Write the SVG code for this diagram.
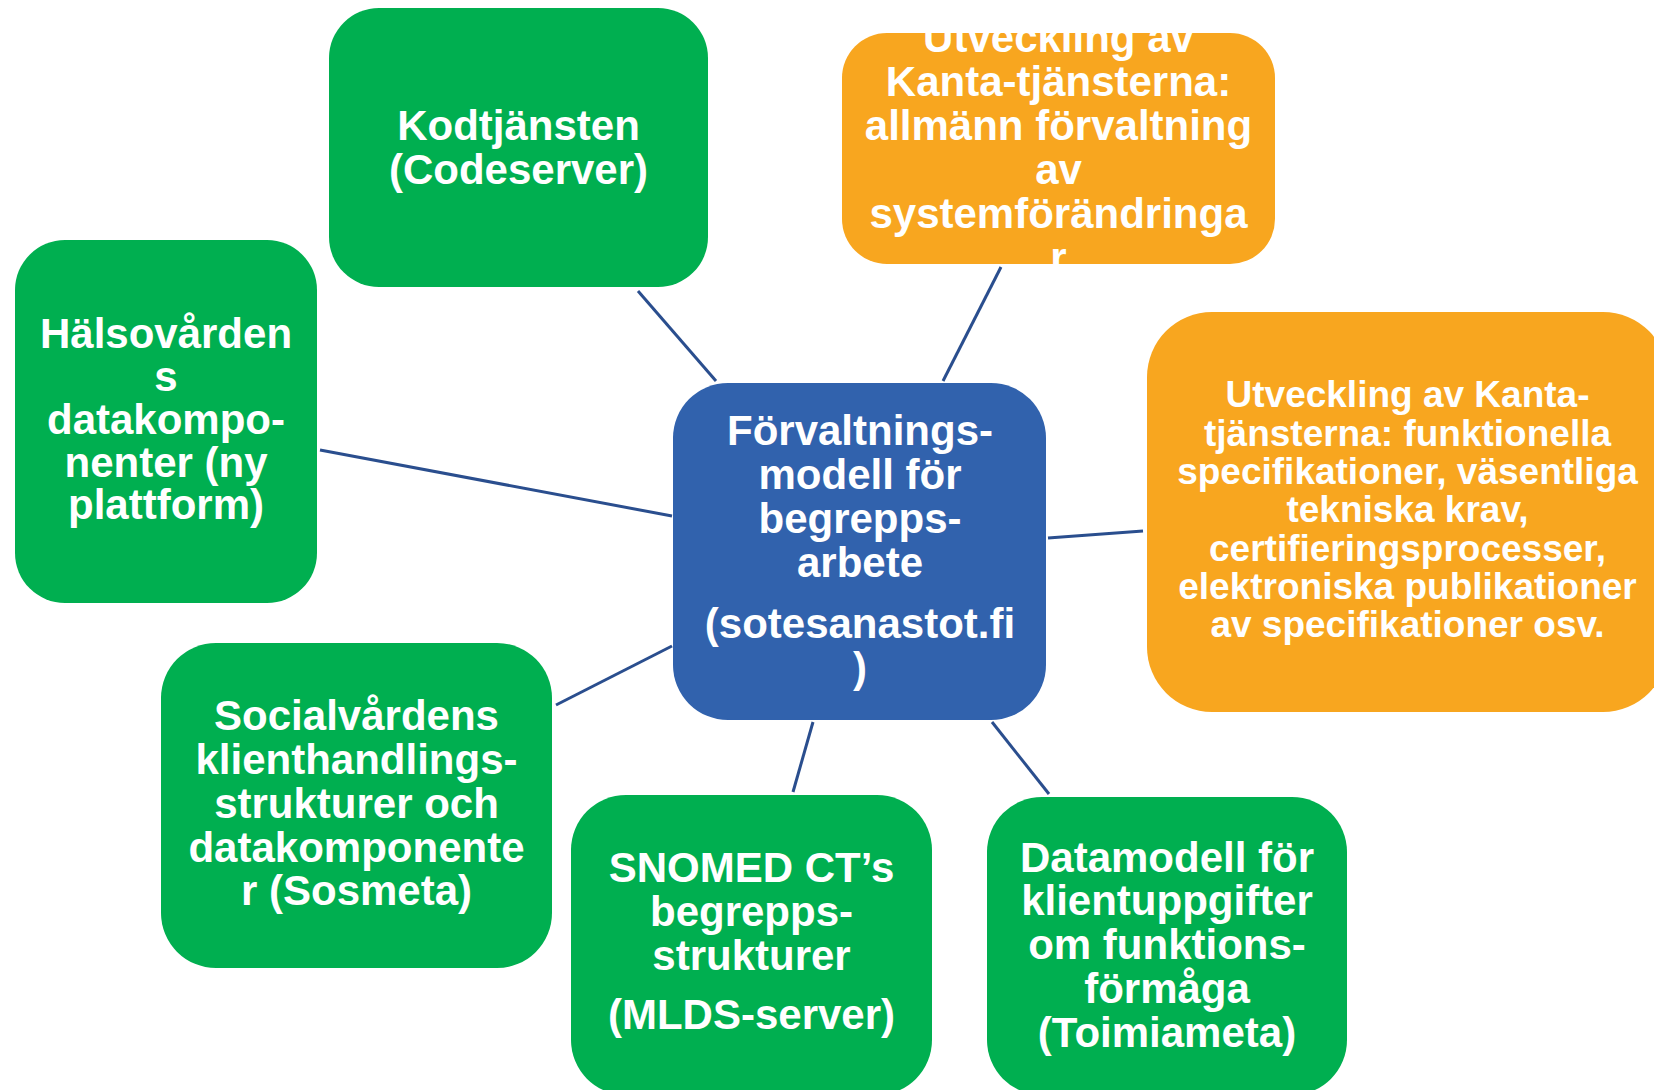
<svg xmlns="http://www.w3.org/2000/svg" width="1654" height="1090" viewBox="0 0 1654 1090">
<style>
.g{fill:#00AF50}
.b{fill:#3162AD}
.o{fill:#F8A61F}
.t{font-family:"Liberation Sans",Arial,sans-serif;font-weight:bold;font-size:42px;fill:#FFFFFF;text-anchor:middle}
.s{font-size:37px}
.c line{stroke:#2A4E8E;stroke-width:3;stroke-linecap:butt}
</style>
<defs>
<clipPath id="clipTop"><rect x="842" y="33" width="433" height="231" rx="45"/></clipPath>
</defs>
<rect width="1654" height="1090" fill="#FFFFFF"/>
<g class="c" id="connectors">
<line x1="638" y1="291" x2="716" y2="381"/>
<line x1="320" y1="450" x2="672" y2="516"/>
<line x1="672" y1="646" x2="556" y2="705"/>
<line x1="813" y1="722" x2="793" y2="792"/>
<line x1="992" y1="722" x2="1049" y2="794"/>
<line x1="1001" y1="267" x2="943" y2="381"/>
<line x1="1048" y1="538" x2="1143" y2="531"/>
</g>
<g id="center">
<rect class="b" x="673" y="383" width="373" height="337" rx="55"/>
<text class="t"><tspan x="860" y="445">Förvaltnings-</tspan><tspan x="860" y="489">modell för</tspan><tspan x="860" y="533">begrepps-</tspan><tspan x="860" y="577">arbete</tspan><tspan x="860" y="638">(sotesanastot.fi</tspan><tspan x="860" y="682">)</tspan></text>
</g>
<g id="kodtjansten">
<rect class="g" x="329" y="8" width="379" height="279" rx="50"/>
<text class="t"><tspan x="518.5" y="140">Kodtjänsten</tspan><tspan x="518.5" y="184">(Codeserver)</tspan></text>
</g>
<g id="kanta-allman">
<rect class="o" x="842" y="33" width="433" height="231" rx="45"/>
<text class="t" clip-path="url(#clipTop)"><tspan x="1058.5" y="52">Utveckling av</tspan><tspan x="1058.5" y="96">Kanta-tjänsterna:</tspan><tspan x="1058.5" y="140">allmänn förvaltning</tspan><tspan x="1058.5" y="184">av</tspan><tspan x="1058.5" y="228">systemförändringa</tspan><tspan x="1058.5" y="272">r</tspan></text>
</g>
<g id="halsovardens">
<rect class="g" x="15" y="240" width="302" height="363" rx="50"/>
<text class="t"><tspan x="166" y="348">Hälsovården</tspan><tspan x="166" y="391">s</tspan><tspan x="166" y="434">datakompo-</tspan><tspan x="166" y="477">nenter (ny</tspan><tspan x="166" y="519">plattform)</tspan></text>
</g>
<g id="kanta-funktionella">
<rect class="o" x="1147" y="312" width="521" height="400" rx="65"/>
<text class="t s"><tspan x="1407.5" y="407">Utveckling av Kanta-</tspan><tspan x="1407.5" y="446">tjänsterna: funktionella</tspan><tspan x="1407.5" y="484">specifikationer, väsentliga</tspan><tspan x="1407.5" y="522">tekniska krav,</tspan><tspan x="1407.5" y="561">certifieringsprocesser,</tspan><tspan x="1407.5" y="599">elektroniska publikationer</tspan><tspan x="1407.5" y="637">av specifikationer osv.</tspan></text>
</g>
<g id="socialvardens">
<rect class="g" x="161" y="643" width="391" height="325" rx="55"/>
<text class="t"><tspan x="356.5" y="730">Socialvårdens</tspan><tspan x="356.5" y="774">klienthandlings-</tspan><tspan x="356.5" y="818">strukturer och</tspan><tspan x="356.5" y="862">datakomponente</tspan><tspan x="356.5" y="905">r (Sosmeta)</tspan></text>
</g>
<g id="snomed">
<rect class="g" x="571" y="795" width="361" height="300" rx="55"/>
<text class="t"><tspan x="751.5" y="882">SNOMED CT’s</tspan><tspan x="751.5" y="926">begrepps-</tspan><tspan x="751.5" y="970">strukturer</tspan><tspan x="751.5" y="1029">(MLDS-server)</tspan></text>
</g>
<g id="datamodell">
<rect class="g" x="987" y="797" width="360" height="298" rx="55"/>
<text class="t"><tspan x="1167" y="872">Datamodell för</tspan><tspan x="1167" y="915">klientuppgifter</tspan><tspan x="1167" y="959">om funktions-</tspan><tspan x="1167" y="1003">förmåga</tspan><tspan x="1167" y="1047">(Toimiameta)</tspan></text>
</g>
</svg>
